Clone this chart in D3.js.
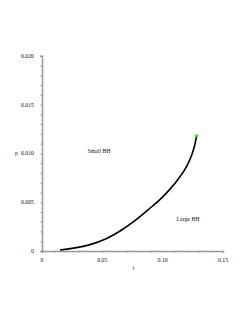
<!DOCTYPE html>
<html>
<head>
<meta charset="utf-8">
<script src="https://cdn.jsdelivr.net/npm/d3@7"></script>
<style>
body { margin: 0; background: #fff; }
text { font-family: "Liberation Serif", "DejaVu Serif", serif; fill: #111; }
</style>
</head>
<body>
<script>
// curve
var tVals = [0.0149, 0.0384, 0.0522, 0.066, 0.077, 0.0887, 0.1005, 0.1143, 0.1200, 0.1240, 0.1265, 0.1282];
var pVals = [0.0001, 0.0006, 0.0012, 0.00215, 0.0031, 0.0043, 0.0056, 0.0076, 0.0087, 0.0098, 0.0108, 0.0118];
var endPoint = [0.1282, 0.0118];
var xTickVals = [0, 0.05, 0.10, 0.15];
var xTickLabels = ["0", "0.05", "0.10", "0.15"];
var yTickVals = [0, 0.005, 0.010, 0.015, 0.020];
var yTickLabels = ["0", "0.005", "0.010", "0.015", "0.020"];

var w = 249, h = 323;

var x = d3.scaleLinear().domain([0, 0.15]).range([42, 223]);
var y = d3.scaleLinear().domain([0, 0.02]).range([251, 55.7]);

var svg = d3.select("body")
	.append("svg")
	.attr("width", w)
	.attr("height", h)

// axes
var xAxis = d3.axisBottom(x).tickValues(d3.range(0, 0.1501, 0.01)).tickSize(2).tickFormat("");
var yAxis = d3.axisLeft(y).tickValues(d3.range(0, 0.02001, 0.001)).tickSize(2).tickFormat("");

var gx = svg.append("g").attr("transform", "translate(0," + y(0) + ")").call(xAxis)
var gy = svg.append("g").attr("transform", "translate(" + x(0) + ",0)").call(yAxis)
gx.select(".domain").attr("stroke", "#999").attr("stroke-width", 1.5)
gy.select(".domain").attr("stroke", "#999").attr("stroke-width", 1.5)
svg.selectAll(".tick line").attr("stroke", "#999").attr("stroke-width", 0.7)

svg.selectAll("text.xl")
	.data(xTickVals)
	.enter()
	.append("text")
	.attr("class", "xl")
	.attr("x", function(d) { return x(d) })
	.attr("y", 262)
	.attr("text-anchor", "middle")
	.attr("font-size", "5.8px")
	.text(function(d, i) { return xTickLabels[i] })

svg.selectAll("text.yl")
	.data(yTickVals)
	.enter()
	.append("text")
	.attr("class", "yl")
	.attr("x", 34)
	.attr("y", function(d) { return y(d) + 2 })
	.attr("text-anchor", "end")
	.attr("font-size", "5.8px")
	.text(function(d, i) { return yTickLabels[i] })

// curve
var line = d3.line()
	.x(function(d, i) { return x(tVals[i]) })
	.y(function(d, i) { return y(pVals[i]) })
	.curve(d3.curveMonotoneX)

svg.append("path")
	.attr("d", line(tVals))
	.attr("fill", "none")
	.attr("stroke", "black")
	.attr("stroke-width", 1.6)

svg.append("circle")
	.attr("cx", x(endPoint[0]))
	.attr("cy", y(endPoint[1]))
	.attr("r", 1.6)
	.attr("fill", "#00ff00")

// labels
svg.append("text").attr("x", 16.5).attr("y", 155).attr("text-anchor", "middle").attr("font-size", "6px").text("p")
svg.append("text").attr("x", 133.5).attr("y", 270).attr("text-anchor", "middle").attr("font-size", "6px").text("t")
svg.append("text").attr("x", 99).attr("y", 152.5).attr("text-anchor", "middle").attr("font-size", "5.8px").text("Small BH")
svg.append("text").attr("x", 188).attr("y", 220.5).attr("text-anchor", "middle").attr("font-size", "5.8px").text("Large BH")
</script>
</body>
</html>
